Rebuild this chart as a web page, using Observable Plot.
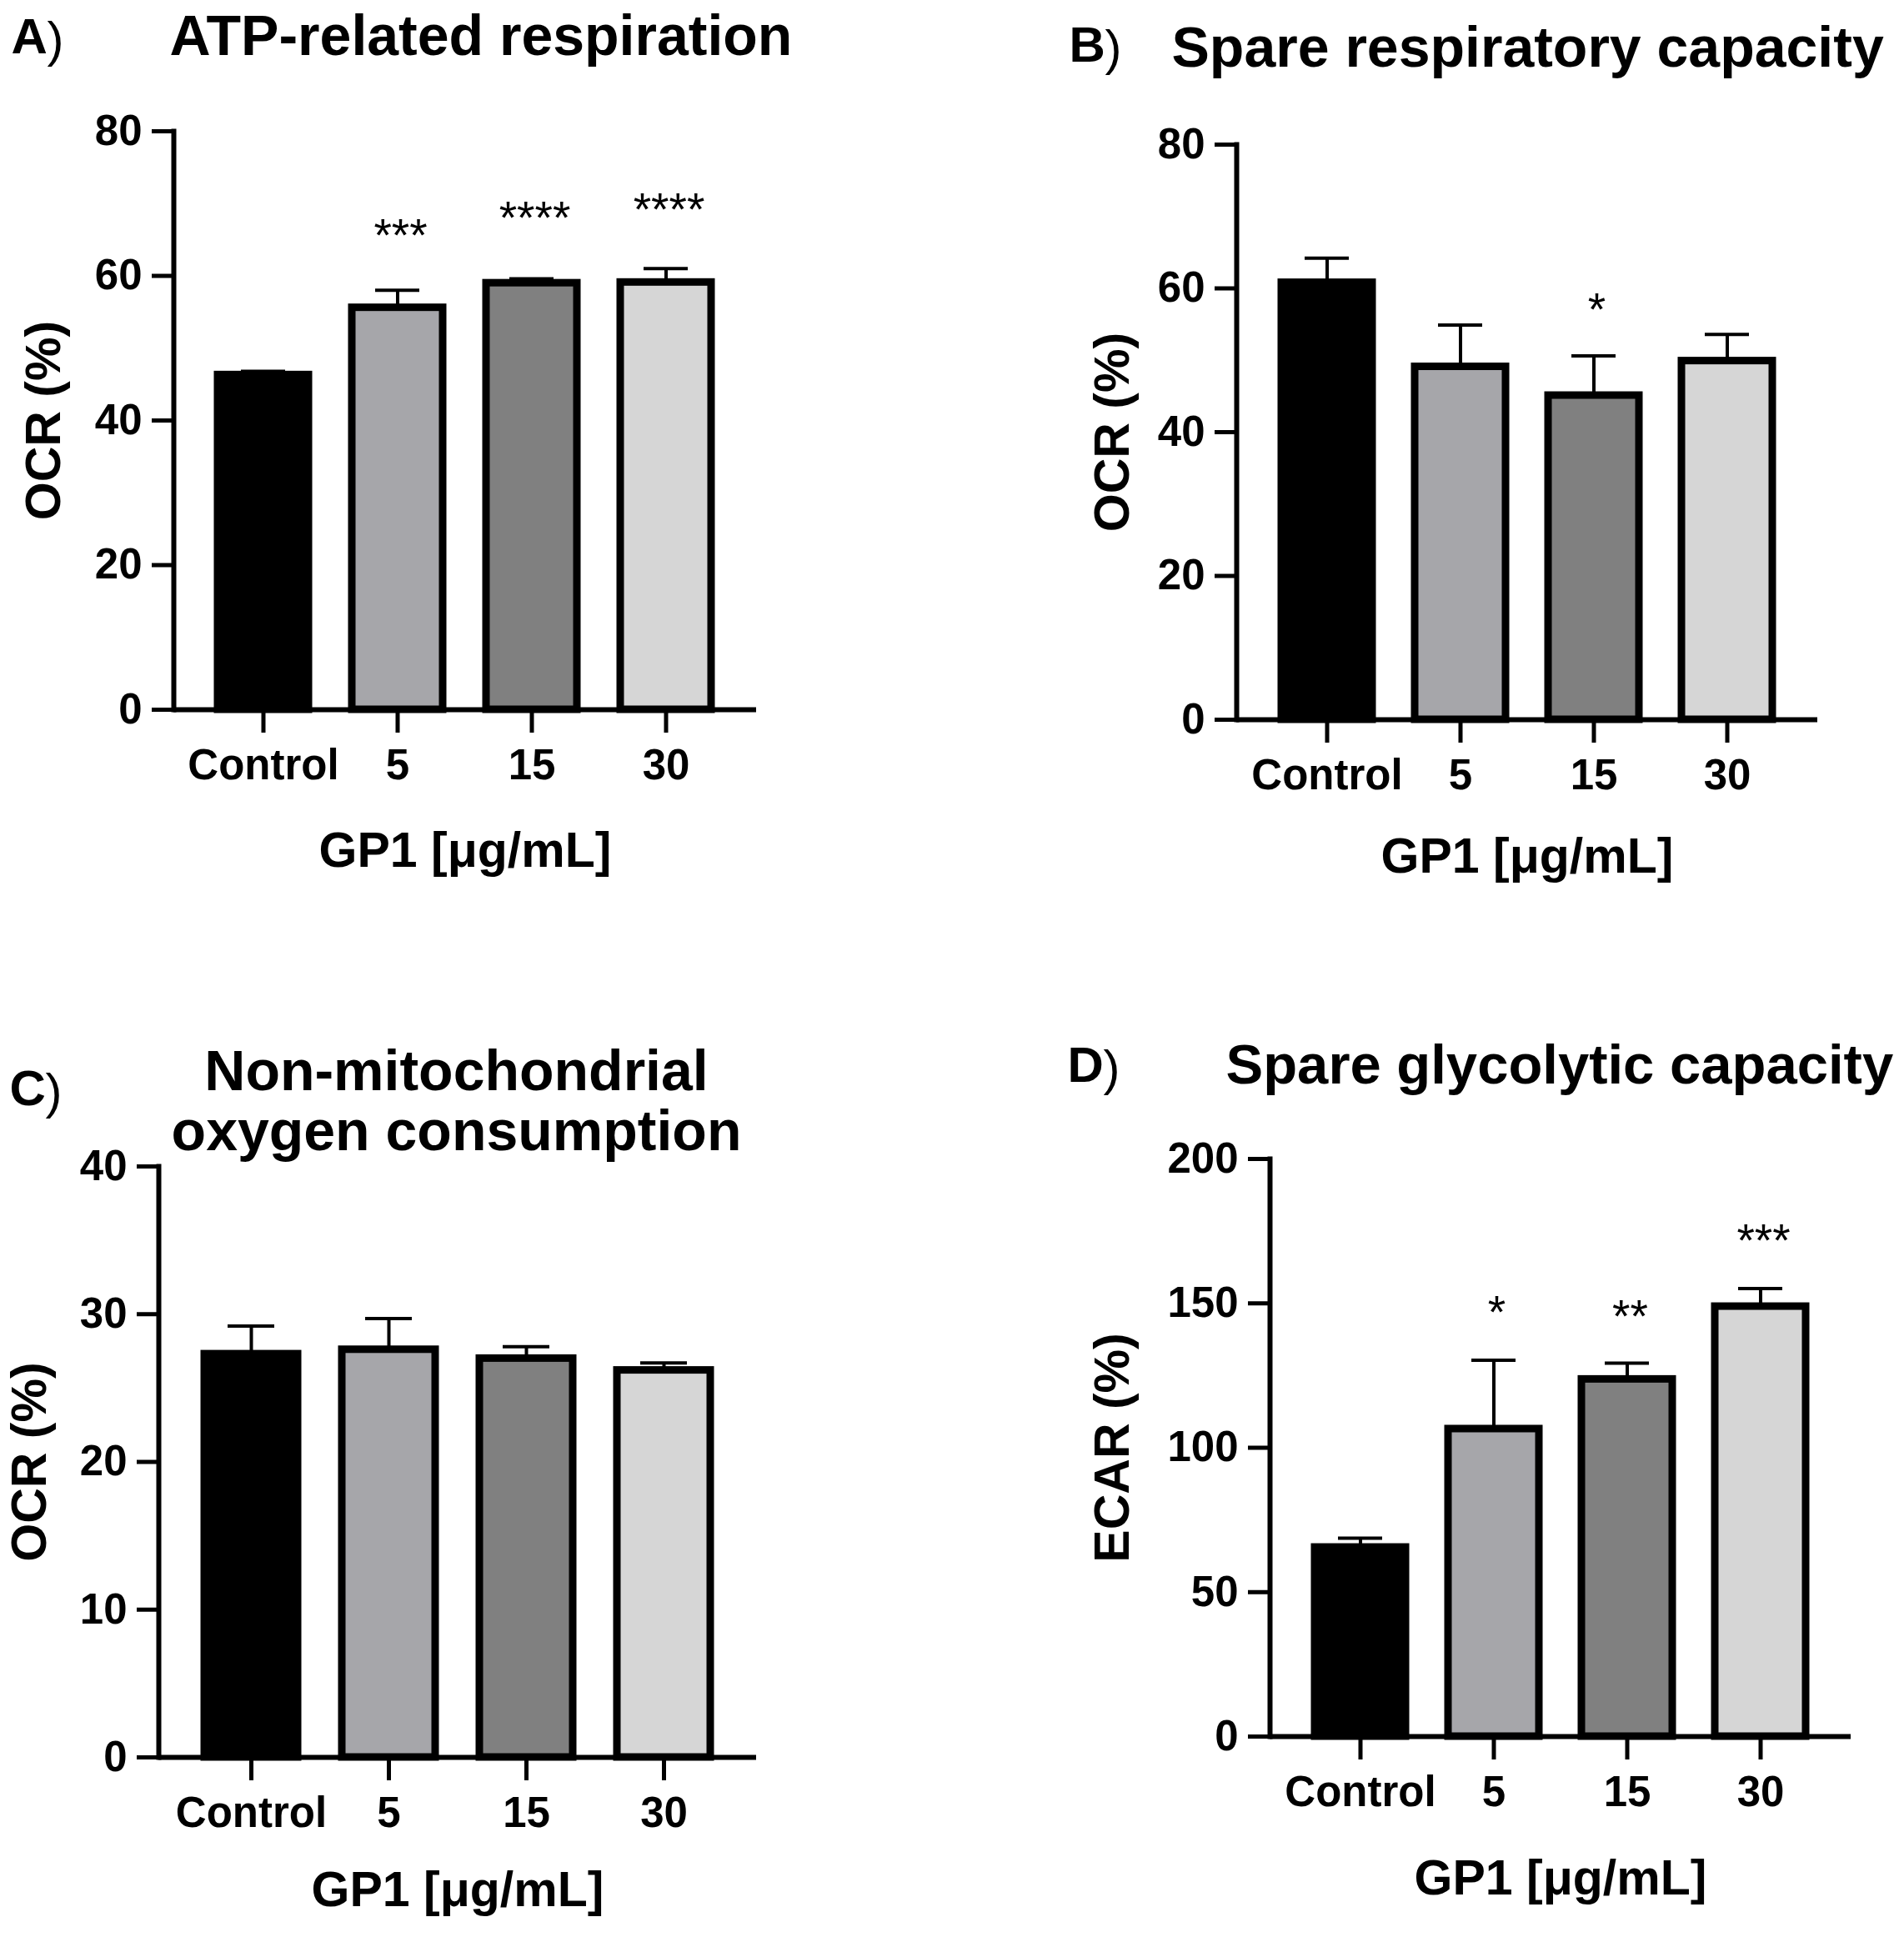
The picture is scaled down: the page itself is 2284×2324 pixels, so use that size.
<!DOCTYPE html>
<html>
<head>
<meta charset="utf-8">
<script src="https://cdn.jsdelivr.net/npm/d3@7"></script>
<script src="https://cdn.jsdelivr.net/npm/@observablehq/plot@0.6"></script>
<style>
  html, body { margin: 0; padding: 0; background: #fff; }
  #page { position: relative; width: 2284px; height: 2324px; background: #fff; overflow: hidden; }
  #page svg { position: absolute; }
  g[aria-label="stars"] text { letter-spacing: 7px; }
</style>
</head>
<body>
<div id="page"></div>
<script>
// ---------- data ----------
const groups = ["Control", "5", "15", "30"];
const groupFills = ["#000000", "#a6a6aa", "#808080", "#d6d6d6"];
const xAxisTitle = "GP1 [μg/mL]";

const panelLetters = ["A", "B", "C", "D"];
const panelTitles = [
  "ATP-related respiration",
  "Spare respiratory capacity",
  "Non-mitochondrial\noxygen consumption",
  "Spare glycolytic capacity"
];
const yAxisTitles = ["OCR (%)", "OCR (%)", "OCR (%)", "ECAR (%)"];

const atpMean = [46.3, 55.6, 59.0, 59.1];
const atpErr = [0.5, 2.4, 0.6, 1.9];
const atpStars = ["", "***", "****", "****"];
const atpStarY = [null, 66.6, 69.0, 70.1];
const atpTicks = [0, 20, 40, 60, 80];

const spareMean = [60.8, 49.1, 45.1, 49.9];
const spareErr = [3.4, 5.8, 5.5, 3.7];
const spareStars = ["", "", "*", ""];
const spareStarY = [null, null, 58.0, null];
const spareTicks = [0, 20, 40, 60, 80];

const nonMitoMean = [27.3, 27.6, 27.0, 26.2];
const nonMitoErr = [1.9, 2.1, 0.8, 0.5];
const nonMitoStars = ["", "", "", ""];
const nonMitoStarY = [null, null, null, null];
const nonMitoTicks = [0, 10, 20, 30, 40];

const glycoMean = [65.5, 106.5, 123.7, 148.9];
const glycoErr = [3.2, 23.8, 5.6, 6.2];
const glycoStars = ["", "*", "**", "***"];
const glycoStarY = [null, 149.3, 147.8, 174.1];
const glycoTicks = [0, 50, 100, 150, 200];

// ---------- layout ----------
const FONT = "'Liberation Sans', Arial, Helvetica, sans-serif";
const layouts = [
  {left: 0,    top: 0,    w: 1000, h: 1130, ml: 208, mr: 93,  mt: 157, mb: 279, titleSize: 68,
   titleDx: -5,  titleDy: -92, titleAnchor: "start", letterDx: -195, letterDy: -94, yDx: -155, xDy: 170},
  {left: 1142, top: 0,    w: 1142, h: 1130, ml: 341, mr: 104, mt: 173, mb: 267, titleSize: 68,
   titleDx: -78, titleDy: -94, titleAnchor: "start", letterDx: -201, letterDy: -100, yDx: -148, xDy: 165},
  {left: 0,    top: 1160, w: 1000, h: 1164, ml: 190, mr: 93,  mt: 239, mb: 216, titleSize: 68,
   titleDx: 357, titleDy: -20, titleAnchor: "middle", letterDx: -179, letterDy: -74, yDx: -154, xDy: 160},
  {left: 1142, top: 1160, w: 1142, h: 1164, ml: 381, mr: 64,  mt: 230, mb: 241, titleSize: 67,
   titleDx: -53, titleDy: -91, titleAnchor: "start", letterDx: -243, letterDy: -93, yDx: -188, xDy: 171}
];

const series = [
  {mean: atpMean, err: atpErr, stars: atpStars, starY: atpStarY, ticks: atpTicks},
  {mean: spareMean, err: spareErr, stars: spareStars, starY: spareStarY, ticks: spareTicks},
  {mean: nonMitoMean, err: nonMitoErr, stars: nonMitoStars, starY: nonMitoStarY, ticks: nonMitoTicks},
  {mean: glycoMean, err: glycoErr, stars: glycoStars, starY: glycoStarY, ticks: glycoTicks}
];

const page = document.getElementById("page");

series.forEach((s, k) => {
  const L = layouts[k];
  const rows = groups.map((g, i) => ({
    g, v: s.mean[i], e: s.mean[i] + s.err[i], fill: groupFills[i], star: s.stars[i], sy: s.starY[i]
  }));
  const yMax = s.ticks[s.ticks.length - 1];
  const chart = Plot.plot({
    width: L.w, height: L.h,
    marginLeft: L.ml, marginRight: L.mr, marginTop: L.mt, marginBottom: L.mb,
    style: {background: "transparent", color: "#000", fontFamily: FONT, overflow: "visible"},
    x: {domain: groups, paddingInner: 0.32, paddingOuter: 0.33, axis: null},
    y: {domain: [0, yMax], axis: null},
    marks: [
      Plot.barY(rows, {x: "g", y: "v", fill: d => d.fill, stroke: "#000", strokeWidth: 9}),
      Plot.ruleX(rows, {x: "g", y1: "v", y2: "e", stroke: "#000", strokeWidth: 4}),
      Plot.tickY(rows, {x: "g", y: "e", stroke: "#000", strokeWidth: 4, insetLeft: 28, insetRight: 28}),
      Plot.text(rows.filter(d => d.star), {
        x: "g", y: "sy", text: "star", fontSize: 55, fontWeight: "normal",
        lineAnchor: "bottom", dy: 27, dx: 3.5, fill: "#000", ariaLabel: "stars"
      }),
      Plot.ruleY([0], {stroke: "#000", strokeWidth: 6}),
      Plot.frame({anchor: "left", stroke: "#000", strokeWidth: 6}),
      Plot.axisY({ticks: s.ticks, tickSize: 26, tickPadding: 12, strokeWidth: 5,
        fontSize: 51, fontWeight: "bold", tickFormat: d => String(d), label: null}),
      Plot.axisX({tickSize: 28, tickPadding: 19, strokeWidth: 5,
        fontSize: 51, fontWeight: "bold", label: null}),
      Plot.text([yAxisTitles[k]], {frameAnchor: "left", dx: L.yDx, rotate: -90,
        textAnchor: "middle", lineAnchor: "middle", fontSize: 59, fontWeight: "bold", fill: "#000"}),
      Plot.text([xAxisTitle], {frameAnchor: "bottom", dy: L.xDy,
        textAnchor: "middle", lineAnchor: "middle", fontSize: 59, fontWeight: "bold", fill: "#000"}),
      Plot.text([panelTitles[k]], {frameAnchor: "top-left", dx: L.titleDx, dy: L.titleDy,
        textAnchor: L.titleAnchor, lineAnchor: "bottom", lineHeight: 1.045,
        fontSize: L.titleSize, fontWeight: "bold", fill: "#000"}),
      Plot.text([panelLetters[k]], {frameAnchor: "top-left", dx: L.letterDx, dy: L.letterDy,
        textAnchor: "start", lineAnchor: "bottom", fontSize: 60, fontWeight: "bold", fill: "#000"}),
      Plot.text([")"], {frameAnchor: "top-left", dx: L.letterDx + 43, dy: L.letterDy + 4,
        textAnchor: "start", lineAnchor: "bottom", fontSize: 60, fontWeight: "normal", fill: "#000"})
    ]
  });
  chart.style.left = L.left + "px";
  chart.style.top = L.top + "px";
  chart.style.maxWidth = "none";
  page.appendChild(chart);
});
</script>
</body>
</html>
